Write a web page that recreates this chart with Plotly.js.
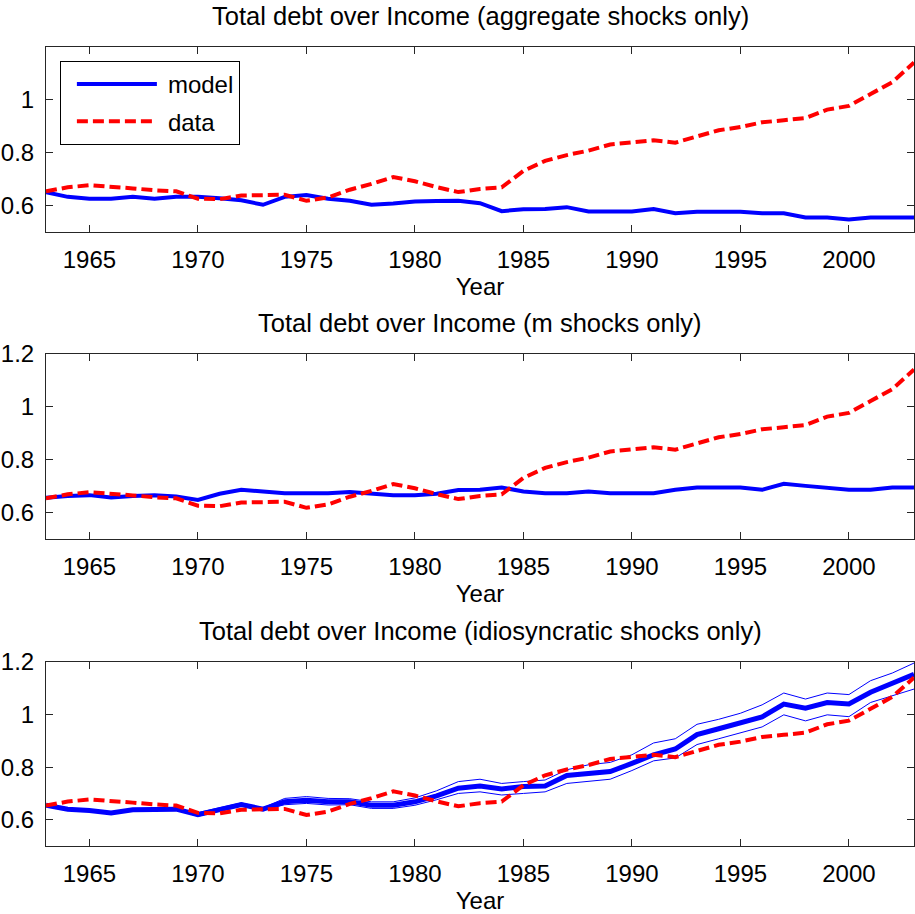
<!DOCTYPE html>
<html><head><meta charset="utf-8">
<script src="https://cdn.plot.ly/plotly-3.0.1.min.js"></script>
<style>html,body{margin:0;padding:0;background:#fff}</style>
</head><body>
<div id="chart" style="width:915px;height:914px"></div>
<script>
const years = [1963,1964,1965,1966,1967,1968,1969,1970,1971,1972,1973,1974,1975,1976,1977,1978,1979,1980,1981,1982,1983,1984,1985,1986,1987,1988,1989,1990,1991,1992,1993,1994,1995,1996,1997,1998,1999,2000,2001,2002,2003];

const dataDebt = [0.654,0.669,0.677,0.672,0.665,0.658,0.654,0.626,0.624,0.638,0.641,0.641,0.618,0.631,0.660,0.682,0.708,0.692,0.670,0.651,0.663,0.669,0.731,0.769,0.791,0.808,0.831,0.840,0.847,0.838,0.862,0.885,0.897,0.915,0.923,0.931,0.963,0.977,1.022,1.067,1.141];

const modelAggregate = [0.651,0.633,0.626,0.626,0.633,0.626,0.633,0.633,0.628,0.620,0.603,0.633,0.640,0.626,0.618,0.603,0.608,0.615,0.617,0.618,0.609,0.579,0.586,0.587,0.594,0.578,0.578,0.578,0.587,0.571,0.577,0.577,0.577,0.571,0.571,0.555,0.555,0.547,0.555,0.555,0.555];

const modelM = [0.656,0.663,0.666,0.657,0.663,0.666,0.661,0.648,0.671,0.686,0.680,0.673,0.673,0.673,0.678,0.671,0.666,0.666,0.671,0.685,0.686,0.695,0.680,0.673,0.673,0.680,0.673,0.673,0.673,0.686,0.695,0.695,0.695,0.686,0.709,0.701,0.695,0.686,0.686,0.695,0.695];

const modelIdio = [0.655,0.640,0.635,0.626,0.638,0.640,0.640,0.619,0.638,0.658,0.640,0.668,0.674,0.668,0.668,0.655,0.655,0.668,0.691,0.720,0.728,0.717,0.726,0.728,0.768,0.776,0.783,0.814,0.847,0.869,0.924,0.946,0.969,0.991,1.040,1.024,1.046,1.040,1.085,1.117,1.153];

const modelIdioUpper = [0.657,0.642,0.637,0.628,0.640,0.642,0.642,0.627,0.645,0.664,0.645,0.681,0.688,0.681,0.680,0.668,0.668,0.683,0.710,0.745,0.754,0.738,0.745,0.751,0.790,0.809,0.818,0.847,0.892,0.908,0.963,0.982,1.005,1.037,1.082,1.059,1.082,1.076,1.129,1.158,1.196];

const modelIdioLower = [0.653,0.638,0.633,0.624,0.636,0.638,0.638,0.613,0.632,0.652,0.636,0.657,0.662,0.656,0.657,0.643,0.643,0.655,0.676,0.700,0.706,0.694,0.700,0.706,0.738,0.745,0.754,0.787,0.824,0.835,0.886,0.908,0.931,0.953,0.999,0.976,0.999,0.992,1.046,1.072,1.097];

const xTickVals = [1965,1970,1975,1980,1985,1990,1995,2000];
const yTickVals1 = [0.6,0.8,1];
const yTickVals = [0.6,0.8,1,1.2];

const panelTitles = [
  'Total debt over Income (aggregate shocks only)',
  'Total debt over Income (m shocks only)',
  'Total debt over Income (idiosyncratic shocks only)'
];
const xLabel = 'Year';
const seriesNames = ['model','data'];

const FONT = 'Liberation Sans, Arial, Helvetica, sans-serif';
const BLUE = '#0000ff', RED = '#ff0000';
const dashStyle = '11px,5px';

const traces = [
  {x: years, y: modelAggregate, xaxis:'x', yaxis:'y', mode:'lines', name: seriesNames[0], legendgroup:'a',
   line:{color:BLUE, width:4}},
  {x: years, y: dataDebt, xaxis:'x', yaxis:'y', mode:'lines', name: seriesNames[1], legendgroup:'b',
   line:{color:RED, width:4, dash:dashStyle}},
  {x: years, y: modelM, xaxis:'x2', yaxis:'y2', mode:'lines', showlegend:false,
   line:{color:BLUE, width:4}},
  {x: years, y: dataDebt, xaxis:'x2', yaxis:'y2', mode:'lines', showlegend:false,
   line:{color:RED, width:4, dash:dashStyle}},
  {x: years, y: modelIdioUpper, xaxis:'x3', yaxis:'y3', mode:'lines', showlegend:false,
   line:{color:BLUE, width:1}},
  {x: years, y: modelIdioLower, xaxis:'x3', yaxis:'y3', mode:'lines', showlegend:false,
   line:{color:BLUE, width:1}},
  {x: years, y: modelIdio, xaxis:'x3', yaxis:'y3', mode:'lines', showlegend:false,
   line:{color:BLUE, width:5}},
  {x: years, y: dataDebt, xaxis:'x3', yaxis:'y3', mode:'lines', showlegend:false,
   line:{color:RED, width:4, dash:dashStyle}}
];

const axBase = {
  showgrid:false, zeroline:false, showline:true, mirror:'allticks',
  linecolor:'#262626', linewidth:1, ticks:'inside', ticklen:7, tickwidth:1, tickcolor:'#262626',
  tickfont:{family:FONT, size:24, color:'#000'}
};
function xa(anchor){
  return Object.assign({}, axBase, {
    anchor: anchor, range:[1963,2003], tickvals:xTickVals, ticklabelstandoff:6,
    title:{text:xLabel, font:{family:FONT, size:24, color:'#000'}, standoff:6}
  });
}
function ya(anchor, dom, tv){
  return Object.assign({}, axBase, {
    anchor: anchor, domain: dom, range:[0.5,1.2], tickvals:tv, ticklabelstandoff:6
  });
}

const H = 914;
const doms = [[1-232/H, 1-47/H],[1-539/H, 1-354/H],[1-846/H, 1-662/H]];

const annotations = panelTitles.map((t,i)=>({
  text:t, xref:(i===0?'x':'x'+(i+1))+' domain', yref:(i===0?'y':'y'+(i+1))+' domain',
  x:0.5, y:1, xanchor:'center', yanchor:'middle', yshift:31, showarrow:false,
  font:{family:FONT, size:25.5, color:'#000'}
}));

const layout = {
  width:915, height:914,
  margin:{l:46, r:1, t:0, b:0},
  paper_bgcolor:'#fff', plot_bgcolor:'#fff',
  showlegend:true,
  xaxis: xa('y'), yaxis: ya('x', doms[0], yTickVals1),
  xaxis2: xa('y2'), yaxis2: ya('x2', doms[1], yTickVals),
  xaxis3: xa('y3'), yaxis3: ya('x3', doms[2], yTickVals),
  legend:{x:0.016, y:1-61/H, xanchor:'left', yanchor:'top', bgcolor:'#fff',
    bordercolor:'#000', borderwidth:1, font:{family:FONT, size:24, color:'#000'},
    itemwidth:97, tracegroupgap:3, traceorder:'grouped'},
  annotations: annotations
};

Plotly.newPlot('chart', traces, layout, {staticPlot:true}).then(function(gd){
  // legend key lines: 80px long, inset from the box edge as in the reference
  gd.querySelectorAll('.legend path.js-line').forEach(function(p){
    p.setAttribute('d', 'M16,0h80');
  });
});
</script>
</body></html>
